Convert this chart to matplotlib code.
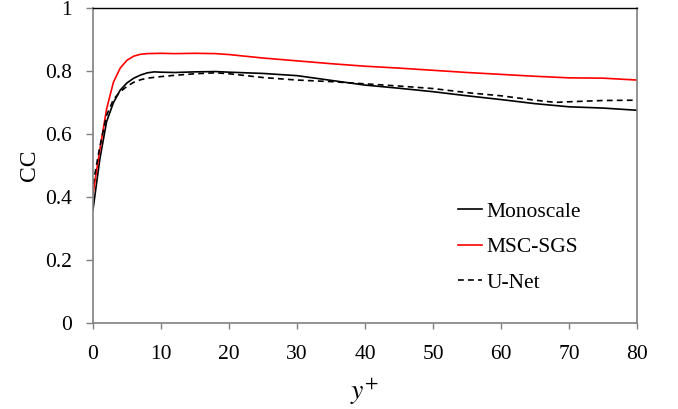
import matplotlib
matplotlib.use("Agg")
import matplotlib.pyplot as plt
import numpy as np

# Data
x_mono = [0, 1, 2, 3, 4, 5, 6, 7, 8, 9, 10, 12, 15, 18, 20, 25, 30, 35, 40, 45, 50, 55, 60, 65, 70, 75, 80]
cc_mono = [0.36, 0.52, 0.64, 0.70, 0.74, 0.763, 0.778, 0.788, 0.795, 0.798, 0.797, 0.796, 0.798, 0.799, 0.797,
           0.793, 0.786, 0.771, 0.756, 0.746, 0.735, 0.722, 0.710, 0.697, 0.687, 0.683, 0.676]

x_msc = [0, 1, 2, 3, 4, 5, 6, 7, 8, 10, 12, 15, 18, 20, 25, 30, 35, 40, 45, 50, 55, 60, 65, 70, 75, 80]
cc_msc = [0.41, 0.55, 0.68, 0.765, 0.81, 0.835, 0.848, 0.854, 0.856, 0.857, 0.856, 0.857, 0.856, 0.853,
          0.842, 0.833, 0.824, 0.816, 0.810, 0.803, 0.796, 0.790, 0.784, 0.779, 0.778, 0.772]

x_unet = [0, 1, 2, 3, 4, 5, 6, 7, 8, 10, 12, 15, 18, 20, 25, 30, 35, 40, 45, 50, 55, 60, 65, 68, 70, 75, 80]
cc_unet = [0.44, 0.56, 0.66, 0.71, 0.735, 0.752, 0.765, 0.773, 0.778, 0.783, 0.787, 0.792, 0.795, 0.792,
           0.780, 0.772, 0.767, 0.760, 0.753, 0.745, 0.732, 0.722, 0.708, 0.701, 0.703, 0.707, 0.708]

labels = ["Monoscale", "MSC-SGS", "U-Net"]
xticks = [0, 10, 20, 30, 40, 50, 60, 70, 80]
yticks = [0, 0.2, 0.4, 0.6, 0.8, 1]
yticklabels = ["0", "0.2", "0.4", "0.6", "0.8", "1"]

plt.rcParams['font.family'] = ['Liberation Serif', 'DejaVu Serif']
plt.rcParams['mathtext.fontset'] = 'stix'

fig = plt.figure(figsize=(6.78, 4.09), dpi=100)
ax = fig.add_axes([93/678, 1 - 323/409, 544/678, (323 - 8.3)/409])

ax.plot(x_mono, cc_mono, color='black', lw=1.2, label=labels[0])
ax.plot(x_msc, cc_msc, color='#ff0000', lw=1.2, label=labels[1])
ax.plot(x_unet, cc_unet, color='black', lw=1.2, ls=(0, (3.5, 2.5)), label=labels[2])

ax.set_xlim(0, 80)
ax.set_ylim(0, 1)
ax.set_xticks(xticks)
ax.set_yticks(yticks)
ax.set_yticklabels(yticklabels)
ax.tick_params(axis='both', labelsize=15.5, colors='#808080', labelcolor='black', width=1, direction='out')
ax.tick_params(axis='x', pad=11, length=4.5)
ax.tick_params(axis='y', pad=10, length=5)
for s in ['left', 'bottom', 'right']:
    ax.spines[s].set_color('#808080')
    ax.spines[s].set_linewidth(1.2)
ax.spines['top'].set_color('black')
ax.spines['top'].set_linewidth(1.0)

ax.set_xlabel('$y^{+}$', fontsize=20, labelpad=9)
ax.set_ylabel('CC', fontsize=17, labelpad=4)

ax.legend(loc='center left', bbox_to_anchor=(0.671, 0.241), frameon=False, fontsize=15.5,
          handlelength=1.1, handletextpad=0.23, labelspacing=0.72, borderpad=0, borderaxespad=0)

fig.savefig('out.png', dpi=100)
